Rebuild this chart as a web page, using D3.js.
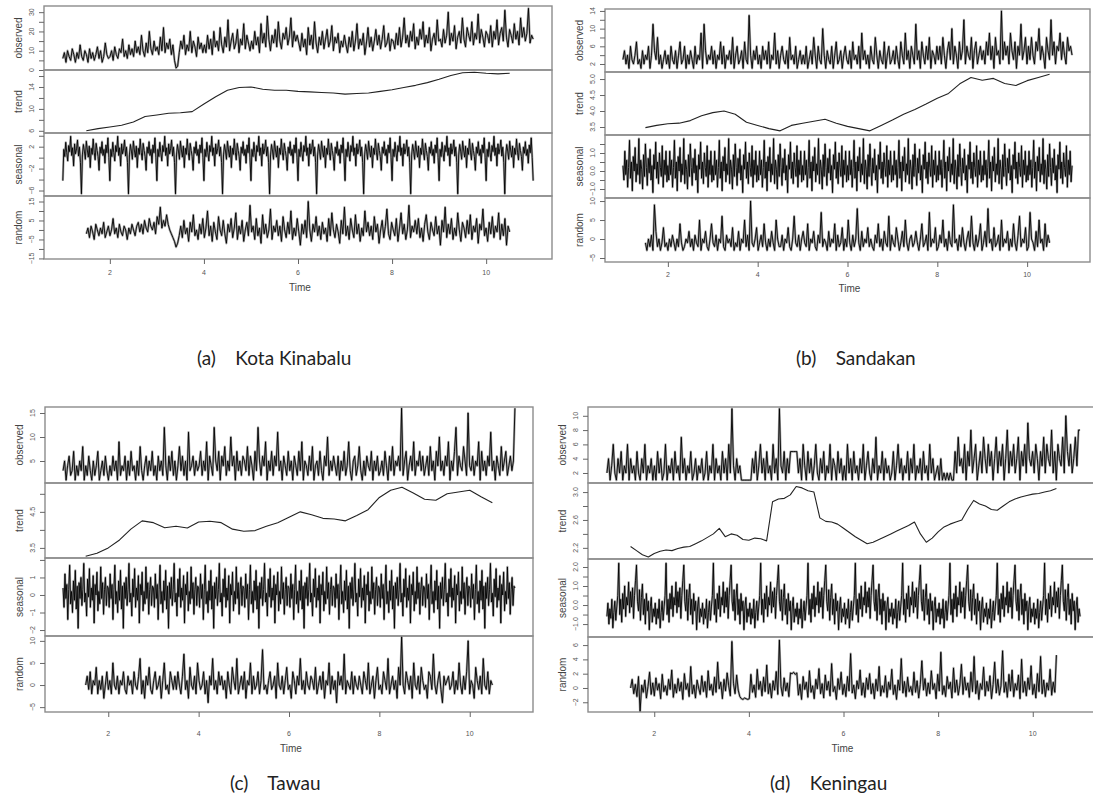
<!DOCTYPE html>
<html>
<head>
<meta charset="utf-8">
<script src="https://cdn.jsdelivr.net/npm/d3@7"></script>
<style>
  body { margin: 0; background: #fff; }
  svg text { font-family: "Liberation Sans", Arial, sans-serif; }
  .caption { font-family: Lato, "Open Sans", sans-serif; white-space: pre; }
</style>
</head>
<body>
<svg id="chart" width="1093" height="808"></svg>
<script>
// ---- data ----
// noisy series: one row of 30 values per time unit
const components = ['observed', 'trend', 'seasonal', 'random'];
const xTicks = [2, 4, 6, 8, 10];

// (a) Kota Kinabalu
const obsA = [
  6,9,4,10,7,5,11,8,4,9,6,13,7,5,10,8,4,11,6,9,5,8,12,6,10,4,7,14,8,6,
  7,10,5,12,8,6,11,9,16,7,10,6,13,8,11,7,15,9,12,8,18,10,7,14,9,20,11,8,15,10,
  12,8,17,10,22,9,14,11,16,8,13,5,1,2,9,15,11,18,8,13,10,20,9,15,12,7,17,11,14,9,
  13,9,18,11,16,8,20,12,15,10,22,13,9,17,12,26,10,15,19,11,14,21,9,16,13,24,11,18,14,10,
  15,11,20,13,17,9,24,14,19,12,28,16,10,18,14,21,12,25,15,11,19,16,22,13,17,27,12,20,15,18,
  14,10,19,12,16,8,22,13,18,11,25,14,9,17,13,20,11,16,21,12,15,23,10,17,14,19,9,15,12,18,
  13,9,17,12,20,10,15,24,11,16,13,19,8,14,22,12,17,10,15,21,13,18,11,16,23,12,14,19,10,16,
  15,11,19,13,22,12,17,27,14,18,12,20,15,24,11,17,13,21,16,25,12,18,14,22,10,16,19,13,26,15,
  16,12,21,14,18,30,13,19,15,23,11,17,20,14,27,16,12,22,18,15,25,13,19,16,29,14,21,17,12,20,
  18,14,23,12,20,16,26,13,19,22,15,31,17,12,21,18,14,24,16,20,13,27,17,22,15,19,32,14,18,16];
const trendA = [6.0,6.4,6.7,7.0,7.6,8.6,8.9,9.2,9.3,9.5,10.9,12.2,13.4,13.9,14.0,13.6,13.4,13.4,13.2,13.1,13.0,12.9,12.7,12.8,12.9,13.2,13.5,13.9,14.3,14.8,15.4,16.1,16.6,16.7,16.5,16.4,16.5];
const seasA = [-4.2,1.5,0.2,2.8,0.9,-0.6,2.2,1.1,3.9,0.4,1.8,-1.5,2.5,0.7,1.6,3.2,0.3,1.9,-0.9,-6.6,
  0.5,2.4,1.2,-0.3,3.0,1.4,0.1,2.1,-1.8,1.7,0.6,3.4,1.0,-0.4,2.6,1.3,0.2,-2.3,1.9,0.8,2.9,0.4,1.5,-1.0,2.3,0.9,3.6,0.0];
const randA = [
  -2,1,-4,2,-1,-5,3,0,-3,1,-2,4,-4,-1,2,-3,0,6,-2,1,-4,3,-1,-3,2,0,-5,1,-2,3,
  0,-3,2,4,-1,3,-2,5,1,-1,6,2,0,4,-2,7,3,12,1,5,2,8,3,0,-2,-4,-6,-9,-7,-3,
  2,-4,5,-2,1,-6,4,-1,8,-3,0,-5,3,-2,6,-4,1,10,-3,2,-6,4,-1,-5,7,0,-3,5,-2,-7,
  3,-1,6,-4,1,9,-5,2,-2,5,-6,0,4,-3,13,-1,2,-5,6,-3,1,-7,8,-2,3,-4,0,11,-5,2,
  -1,5,-3,2,-6,7,0,-4,4,-2,10,-5,1,-3,6,-1,-8,3,-2,5,-4,15,0,-6,3,-1,7,-3,2,-5,
  4,-2,1,-6,6,-3,9,0,-4,3,-1,-7,5,-2,12,-3,2,-5,6,0,-4,8,-2,3,-6,1,-3,10,-1,4,
  -3,2,-5,7,-1,3,-7,0,5,-4,2,11,-2,-5,4,0,-3,6,-6,1,9,-2,3,-5,0,13,-4,2,-1,5,
  -2,6,-4,1,-6,3,8,-1,-5,4,0,-3,7,-2,2,-8,5,-1,12,-4,3,-2,6,-5,1,-3,9,0,-6,4,
  1,-4,5,-2,8,-5,2,-1,6,-7,3,0,11,-3,1,-6,4,-2,7,-4,2,-1,9,-5,3,-3,6,-8,2,-1];

// (b) Sandakan
const obsB = [
  3,5,2,4,1,6,3,2,4,7,2,3,1,5,2,4,3,6,1,4,11,5,3,8,2,4,1,3,5,2,
  4,1,6,3,2,5,1,4,7,2,3,6,1,4,2,5,3,1,6,2,4,3,9,1,11,5,2,4,3,6,
  2,5,1,4,3,7,2,6,1,4,3,5,2,8,1,4,6,2,3,5,1,7,3,2,13,4,1,5,3,6,
  2,4,1,6,3,5,2,7,1,4,3,9,2,5,1,4,6,3,2,5,1,8,3,4,2,6,1,3,5,2,
  4,2,6,1,3,5,2,8,4,1,6,3,2,10,4,1,5,3,2,6,1,4,7,2,3,5,1,4,6,3,
  2,5,1,7,3,4,2,6,1,9,3,5,2,4,1,6,3,2,8,4,1,5,3,2,7,1,4,6,2,3,
  5,2,6,3,1,7,4,2,9,3,5,1,6,4,2,11,3,5,1,7,4,2,6,3,8,1,5,4,2,6,
  3,6,2,8,4,1,5,7,3,10,2,6,4,1,7,3,5,12,2,6,4,3,8,1,5,7,2,4,6,3,
  5,2,7,4,9,3,6,1,8,4,5,2,14,3,7,4,6,2,9,5,3,7,1,6,4,11,3,5,8,2,
  6,3,8,4,2,7,5,10,3,6,4,1,8,5,3,12,4,7,2,6,5,9,3,7,4,2,8,5,6,4];
const trendB = [3.48,3.55,3.6,3.62,3.7,3.85,3.95,4.0,3.9,3.65,3.55,3.45,3.38,3.55,3.62,3.68,3.74,3.62,3.52,3.45,3.38,3.55,3.72,3.9,4.05,4.22,4.4,4.55,4.85,5.05,4.96,5.02,4.86,4.8,4.95,5.05,5.15];
const seasB = [0.3,-0.5,1.1,-0.2,0.6,-0.9,0.2,1.7,-0.4,0.5,-1.1,0.8,0.0,1.3,-0.6,0.4,-0.2,1.8,-0.7,0.6,
  0.1,-1.0,0.9,-0.3,1.5,0.2,-0.8,0.7,-0.1,1.2,-0.5,0.3,-1.2,0.9,0.1,1.6,-0.4,0.5,-0.7,1.0,0.2,-0.3,1.4,-0.9,0.6,-0.2,1.1,-0.6];
const randB = [
  -1,-3,0,-2,1,-3,9,2,-2,0,-3,-1,3,-2,-1,-3,0,-2,1,-1,-3,0,-2,4,-1,-3,-2,0,-1,2,
  -2,0,-3,1,-1,-2,5,-3,0,-1,2,-2,-3,0,4,-1,-2,1,-3,0,-1,6,-2,-3,1,-1,0,-2,3,-3,
  -1,-2,2,-3,0,-1,5,-2,1,-3,10,-1,-2,0,3,-3,-1,1,-2,4,-1,-3,0,-2,2,-1,-3,5,0,-2,
  -2,1,-3,0,-1,3,-2,-3,0,6,-1,-2,1,-3,0,2,-1,-2,4,-3,0,-1,2,-2,-3,1,-1,7,-2,0,
  -1,-3,2,-2,0,-1,4,-3,1,-2,-1,3,-3,0,-2,5,-1,-3,1,-2,0,8,-1,-3,2,-2,0,-1,3,-2,
  0,-2,-3,1,-1,4,-2,0,-3,2,-1,-2,6,-3,1,-1,-2,3,0,-3,-1,2,-2,5,-1,-3,0,1,-2,-1,
  2,-1,-3,0,4,-2,-1,1,-3,7,-2,0,-1,3,-3,-2,1,-1,5,-2,0,-3,2,-1,-2,9,-1,0,-3,1,
  -2,3,-1,-3,0,2,-2,6,-1,-3,1,-2,0,4,-3,-1,2,-2,8,-1,0,-3,3,-2,-1,1,-3,5,-2,0,
  -1,2,-3,0,-2,4,-1,-3,1,6,-2,0,-1,3,-3,-2,7,0,-1,-3,2,-2,5,-1,0,-3,4,-2,1,-1];

// (c) Tawau
const obsC = [
  3,5,1,4,6,2,3,7,1,4,2,5,3,8,1,4,2,6,3,1,5,2,4,7,1,3,5,2,6,3,
  1,4,2,6,3,5,1,9,2,4,3,6,1,5,2,7,3,4,1,5,2,8,3,1,4,6,2,5,3,7,
  2,4,1,6,3,5,2,12,4,1,6,3,7,2,5,1,4,8,3,6,2,5,1,11,3,4,6,2,5,3,
  4,7,2,5,3,9,1,6,4,2,12,5,3,7,1,6,4,8,2,5,3,10,4,6,1,7,3,5,2,6,
  5,3,8,2,6,4,1,7,3,12,5,2,6,4,9,1,5,3,7,2,6,4,11,3,5,1,6,4,2,7,
  3,5,1,6,4,2,7,3,9,1,5,4,2,6,3,8,1,4,5,2,7,3,1,6,4,10,2,5,3,6,
  4,2,6,1,5,3,7,2,4,9,3,1,5,6,2,4,8,3,1,5,2,6,4,3,7,1,5,3,6,2,
  3,5,2,7,4,1,6,3,8,2,5,4,6,3,16,2,5,7,1,4,6,3,9,2,5,4,7,3,6,2,
  4,6,2,8,3,5,1,7,4,10,3,5,2,6,4,9,1,5,3,7,12,2,6,4,3,8,5,2,15,4,
  3,6,2,5,4,9,1,7,3,5,2,6,4,11,3,5,1,6,4,2,8,3,5,7,2,4,6,3,5,16];
const trendC = [3.27,3.35,3.5,3.72,4.02,4.25,4.2,4.06,4.1,4.05,4.22,4.24,4.2,4.02,3.96,3.98,4.1,4.2,4.35,4.5,4.42,4.32,4.3,4.25,4.4,4.56,4.9,5.1,5.18,5.02,4.85,4.82,5.0,5.05,5.1,4.92,4.75];
const seasC = [0.4,-0.7,1.2,-0.2,0.6,-1.4,0.3,1.7,-0.5,0.2,-1.0,0.8,-0.3,1.4,-0.8,0.5,-1.9,0.7,-0.2,1.0,
  -0.6,0.3,1.8,-0.4,0.1,-1.2,0.9,-0.1,1.5,-0.7,0.4,-0.3,1.1,-1.6,0.6,0.0,1.3,-0.9,0.2,-0.5,1.6,-0.2,0.7,-1.1,0.3,1.0,-0.6,0.5];
const randC = [
  0,2,-1,3,-2,1,0,4,-2,1,-1,2,-3,0,3,-1,1,-2,5,0,-1,2,-2,1,0,3,-1,-2,2,0,
  1,-2,3,0,-1,2,6,-2,1,-3,2,0,4,-1,-2,1,3,-1,0,2,-3,1,5,-1,0,-2,3,1,-1,2,
  -1,3,0,-2,2,7,-1,1,-3,4,0,-1,2,-2,5,1,-1,0,3,-2,1,-4,2,0,6,-1,1,-2,3,0,
  2,-1,1,-3,3,0,-2,4,1,-1,6,-2,0,2,-1,3,-3,1,0,5,-2,2,-1,0,3,-2,1,8,-1,0,
  -2,1,3,-1,0,2,-3,5,0,-1,2,-2,1,4,-1,0,-3,3,1,-2,2,0,6,-1,1,-2,3,0,-1,2,
  1,-1,4,-2,0,2,-1,3,-3,1,0,5,-2,2,-1,1,-4,3,0,2,-1,7,-2,1,0,-1,3,-2,2,0,
  -1,2,0,-2,3,1,-1,5,-2,0,2,-3,1,4,-1,0,-2,3,1,-1,6,-2,0,2,-1,1,-3,4,0,11,
  0,-2,3,1,-1,2,-3,5,0,-1,2,-2,4,1,-1,0,-3,3,2,-1,7,0,-2,1,3,-1,-4,2,0,1,
  2,-1,0,3,-2,1,-1,5,0,-2,2,-1,3,10,-2,1,0,-3,4,1,-1,2,-2,6,0,-1,3,-2,1,0];

// (d) Keningau
const obsD = [
  2,4,1,3,6,2,1,4,2,5,1,3,2,6,1,4,2,3,1,5,2,1,4,2,6,1,3,2,4,1,
  3,1,5,2,4,1,2,6,1,3,2,4,1,5,2,3,1,7,2,4,1,3,2,5,1,2,4,1,3,2,
  4,1,2,5,1,3,2,6,1,4,2,3,1,5,2,4,1,6,2,11,3,1,4,2,3,1,1,1,1,1,
  1,1,4,2,5,1,3,6,2,4,1,5,2,3,1,6,2,4,1,11,3,2,5,1,4,2,5,5,5,5,
  5,2,4,1,6,3,1,5,2,4,1,3,6,2,1,4,2,5,1,3,2,6,1,4,3,1,5,2,4,1,
  3,1,6,2,4,1,5,2,3,1,4,2,6,1,3,5,2,1,4,2,7,1,3,2,5,1,4,2,3,1,
  2,5,1,3,6,2,4,1,3,2,5,1,4,2,6,1,3,2,4,1,5,2,3,1,6,2,4,1,2,3,
  1,4,1,2,1,2,1,2,1,1,5,2,7,3,4,2,6,1,5,3,8,2,4,6,1,3,5,2,7,4,
  2,6,3,5,1,4,7,2,5,3,6,1,4,8,2,5,3,6,2,4,7,1,5,3,6,2,9,4,3,5,
  2,6,4,1,5,3,7,2,6,4,3,8,2,5,1,6,4,3,7,2,10,5,3,6,2,4,7,3,8,8];
const trendD = [2.22,2.16,2.10,2.07,2.12,2.15,2.17,2.16,2.19,2.21,2.22,2.26,2.30,2.35,2.40,2.48,2.36,2.40,2.38,2.32,
  2.31,2.34,2.33,2.30,2.86,2.90,2.91,2.96,3.08,3.06,3.02,3.00,2.63,2.58,2.57,2.54,2.48,2.42,2.36,2.31,
  2.26,2.28,2.32,2.36,2.40,2.44,2.48,2.52,2.57,2.40,2.28,2.34,2.43,2.50,2.54,2.57,2.60,2.75,2.88,2.83,
  2.80,2.75,2.74,2.80,2.86,2.90,2.93,2.95,2.97,2.98,3.00,3.02,3.05];
const seasD = [-0.6,0.1,-1.0,-0.2,-0.7,0.3,-1.2,-0.4,0.2,-0.8,-0.1,0.5,2.2,-0.5,0.3,-0.9,0.6,-0.2,1.0,-0.6,
  0.4,0.0,1.2,-0.4,0.7,-0.1,0.9,-0.7,0.5,1.3,2.1,0.2,-0.3,0.8,-0.8,0.4,1.1,-0.5,0.3,-1.0,0.6,-0.3,0.2,-1.3,-0.1,0.4,-0.9,-0.2];
const randD = [
  0,1.2,-0.8,0.5,-1.2,1.6,-3.3,0.4,-0.6,1.1,-1.4,0.2,2.2,-0.9,0.7,-1.1,1.4,-0.3,0.6,-1.5,1.9,-0.5,0.3,-1.0,1.2,-0.2,2.5,-1.3,0.5,-0.7,
  1.3,-0.4,0.8,-1.6,2.0,-0.2,0.6,-1.2,3.0,-0.8,0.4,-1.4,1.1,0.0,-0.9,1.7,-0.5,0.9,-1.3,2.4,-0.3,0.5,-1.0,1.5,-0.6,3.6,-0.1,0.8,-1.5,1.2,
  -0.4,2.1,0.3,-1.1,6.5,0.6,-0.8,1.8,-0.3,-1.2,-1.5,-1.6,-1.4,-1.5,-1.6,-1.5,1.9,-0.6,0.4,-1.3,2.6,-0.2,0.9,-1.1,1.5,-0.5,3.2,-0.8,0.6,-1.4,
  1.0,-0.3,2.3,-0.9,6.7,0.2,-1.1,1.4,-0.4,0.7,-1.2,2.1,2.0,2.2,1.9,2.1,-1.0,0.5,-1.6,1.6,-0.2,0.8,-1.3,2.4,-0.6,0.3,-1.5,1.2,-0.1,2.7,
  -0.8,0.6,-1.4,1.8,-0.3,0.9,-1.1,3.4,-0.5,0.2,-1.6,1.3,-0.2,2.2,-0.9,0.5,-1.2,1.6,-0.4,4.8,-0.7,0.4,-1.5,1.0,-0.1,2.5,-1.0,0.7,-1.3,1.4,
  -0.2,2.0,-0.8,0.6,-1.5,1.2,-0.4,3.0,-1.1,0.3,-0.6,1.7,-1.3,0.8,-0.2,2.6,-0.9,0.4,-1.6,1.1,-0.3,4.1,-0.7,0.9,-1.2,1.5,-0.5,0.2,-1.0,2.2,
  -0.6,1.0,-1.4,0.5,3.8,-0.3,1.3,-1.1,0.7,-0.8,2.4,-0.2,0.6,-1.5,1.9,-0.4,5.0,-0.9,0.3,-1.2,1.6,-0.1,0.8,-1.4,2.8,-0.6,1.1,-1.0,0.4,3.3,
  -0.9,1.5,-0.3,0.7,-1.3,2.2,-0.5,4.4,-0.8,1.0,-1.6,0.6,-0.2,2.9,-1.1,0.9,-0.4,1.7,-1.5,0.5,3.6,-0.7,1.2,-1.0,0.3,5.2,-0.6,0.8,-1.3,1.9,
  -0.4,2.5,-1.2,0.6,-0.3,1.8,-1.5,4.0,-0.6,0.9,-1.1,1.4,-0.2,3.1,-0.9,0.5,-1.4,2.0,-0.5,4.4,-0.8,1.1,-1.2,0.7,-0.3,2.6,-1.0,0.8,-0.6,4.6];

// y tick values and which of them carry a label, per component
const yTicksA = [[0,5,10,15,20,25,30],[6,8,10,12,14,16],[-6,-4,-2,0,2,4],[-15,-10,-5,0,5,10,15]];
const yLabelsA = [[0,10,20,30],[6,10,14],[-6,-2,2],[-15,-5,5,15]];
const yTicksB = [[2,4,6,8,10,12,14],[3.5,4.0,4.5,5.0],[-1,-0.5,0,0.5,1,1.5],[-5,0,5,10]];
const yLabelsB = [[2,6,10,14],[3.5,4.0,4.5,5.0],[-1,0,1],[-5,0,5,10]];
const yTicksC = [[5,10,15],[3.5,4.0,4.5,5.0],[-2,-1,0,1,2],[-5,0,5,10]];
const yLabelsC = [[5,10,15],[3.5,4.5],[-2,-1,0,1],[-5,0,5,10]];
const yTicksD = [[2,4,6,8,10],[2.2,2.4,2.6,2.8,3.0],[-1,-0.5,0,0.5,1,1.5,2],[-2,0,2,4,6]];
const yLabelsD = [[2,4,6,8,10],[2.2,2.6,3.0],[-1,0,1,2],[-2,0,2,4,6]];

// ---- layout ----
const panels = [
  { tag: '(a)', station: 'Kota Kinabalu', obs: obsA, trend: trendA, seas: seasA, rand: randA,
    ticks: yTicksA, labels: yLabelsA, fmt: ['d','d','d','d'],
    left: 44, right: 552, rows: [6, 70, 133, 196, 259], tickY: 275, timeY: 291, capX: 197, capY: 365,
    domains: [[0, 33.2], [5.6, 17.1], [-7, 4.5], [-15.3, 17.9]] },
  { tag: '(b)', station: 'Sandakan', obs: obsB, trend: trendB, seas: seasB, rand: randB,
    ticks: yTicksB, labels: yLabelsB, fmt: ['d','.1f','.1f','d'],
    left: 605, right: 1090, rows: [9, 72, 135, 198, 262], tickY: 277, timeY: 292, capX: 796, capY: 365,
    domains: [[0.19, 14.44], [3.25, 5.22], [-1.5, 2.0], [-6.05, 10.8]] },
  { tag: '(c)', station: 'Tawau', obs: obsC, trend: trendC, seas: seasC, rand: randC,
    ticks: yTicksC, labels: yLabelsC, fmt: ['d','.1f','d','d'],
    left: 45, right: 533, rows: [407, 483, 558, 636, 712], tickY: 736, timeY: 752, capX: 230, capY: 790,
    domains: [[0.42, 16.25], [3.22, 5.3], [-2.34, 2.11], [-6.1, 11.1]] },
  { tag: '(d)', station: 'Keningau', obs: obsD, trend: trendD, seas: seasD, rand: randD,
    ticks: yTicksD, labels: yLabelsD, fmt: ['d','.1f','.1f','d'],
    left: 588, right: 1099, rows: [407, 483, 559, 637, 712], tickY: 736, timeY: 752, capX: 770, capY: 790,
    domains: [[0.6, 11.23], [2.04, 3.13], [-1.68, 2.42], [-3.36, 7.13]] }
];

const svg = d3.select('#chart');

// seasonal component repeats every time unit
const tile = (period) => {
  const pts = [];
  for (let yr = 0; yr < 10; yr++) period.forEach((v, k) => pts.push([1 + yr + k / period.length, v]));
  pts.push([11, period[0]]);
  return pts;
};
const spread = (arr, t0, t1) => arr.map((v, i) => [t0 + i * (t1 - t0) / (arr.length - 1), v]);

panels.forEach((p, pi) => {
  const g = svg.append('g');
  const x = d3.scaleLinear().domain([0.6, 11.4]).range([p.left, p.right]);

  const series = [
    spread(p.obs, 1, 11),
    spread(p.trend, 1.5, 10.5),
    tile(p.seas),
    spread(p.rand, 1.5, 10.5)
  ];

  components.forEach((name, ci) => {
    const top = p.rows[ci], bottom = p.rows[ci + 1];
    const y = d3.scaleLinear().domain(p.domains[ci]).range([bottom, top]);
    const clipId = `clip-${pi}-${ci}`;
    g.append('clipPath').attr('id', clipId)
      .append('rect').attr('x', p.left).attr('y', top).attr('width', p.right - p.left).attr('height', bottom - top);

    const line = d3.line().x(d => x(d[0])).y(d => y(d[1]));
    const clipped = g.append('g').attr('clip-path', `url(#${clipId})`);
    if (ci !== 1) {
      // light grey halo under the noisy series, like the dense original trace
      clipped.append('path')
        .datum(series[ci])
        .attr('d', line)
        .attr('fill', 'none')
        .attr('stroke', '#a6a6a6')
        .attr('stroke-width', 2.3)
        .attr('stroke-linejoin', 'round');
    }
    clipped.append('path')
      .datum(series[ci])
      .attr('d', line)
      .attr('fill', 'none')
      .attr('stroke', ci === 1 ? '#222' : '#000')
      .attr('stroke-width', ci === 1 ? 1.1 : 0.9)
      .attr('stroke-linejoin', 'round');

    // frame of the strip
    g.append('rect')
      .attr('x', p.left).attr('y', top)
      .attr('width', p.right - p.left).attr('height', bottom - top)
      .attr('fill', 'none').attr('stroke', '#8c8c8c').attr('stroke-width', 1.4);

    // y axis ticks
    const yAxis = d3.axisLeft(y).tickValues(p.ticks[ci]).tickSize(5).tickFormat('');
    const ag = g.append('g').attr('transform', `translate(${p.left},0)`).call(yAxis);
    ag.select('.domain').remove();
    ag.selectAll('line').attr('stroke', '#666');

    const fmt = d3.format(p.fmt[ci]);
    p.labels[ci].forEach(v => {
      g.append('text')
        .attr('transform', `translate(${p.left - 10},${y(v)}) rotate(-90)`)
        .attr('text-anchor', 'middle')
        .attr('font-size', 7)
        .attr('fill', '#555')
        .text(fmt(v));
    });

    g.append('text')
      .attr('transform', `translate(${p.left - 22},${(top + bottom) / 2}) rotate(-90)`)
      .attr('text-anchor', 'middle')
      .attr('font-size', 10)
      .attr('fill', '#444')
      .text(name);
  });

  // time axis
  const bottom = p.rows[4];
  const xAxis = d3.axisBottom(x).tickValues(xTicks).tickSize(5).tickFormat('');
  const xg = g.append('g').attr('transform', `translate(0,${bottom})`).call(xAxis);
  xg.select('.domain').remove();
  xg.selectAll('line').attr('stroke', '#666');
  xTicks.forEach(t => {
    g.append('text')
      .attr('x', x(t)).attr('y', p.tickY)
      .attr('text-anchor', 'middle')
      .attr('font-size', 7)
      .attr('fill', '#555')
      .text(t);
  });
  g.append('text')
    .attr('x', (p.left + Math.min(p.right, 1093)) / 2 + 2).attr('y', p.timeY)
    .attr('text-anchor', 'middle')
    .attr('font-size', 10)
    .attr('fill', '#444')
    .text('Time');

  // caption under the panel
  g.append('text')
    .attr('class', 'caption')
    .attr('x', p.capX).attr('y', p.capY)
    .attr('font-size', 19)
    .attr('fill', '#222')
    .text(`${p.tag}    ${p.station}`);
});
</script>
</body>
</html>
